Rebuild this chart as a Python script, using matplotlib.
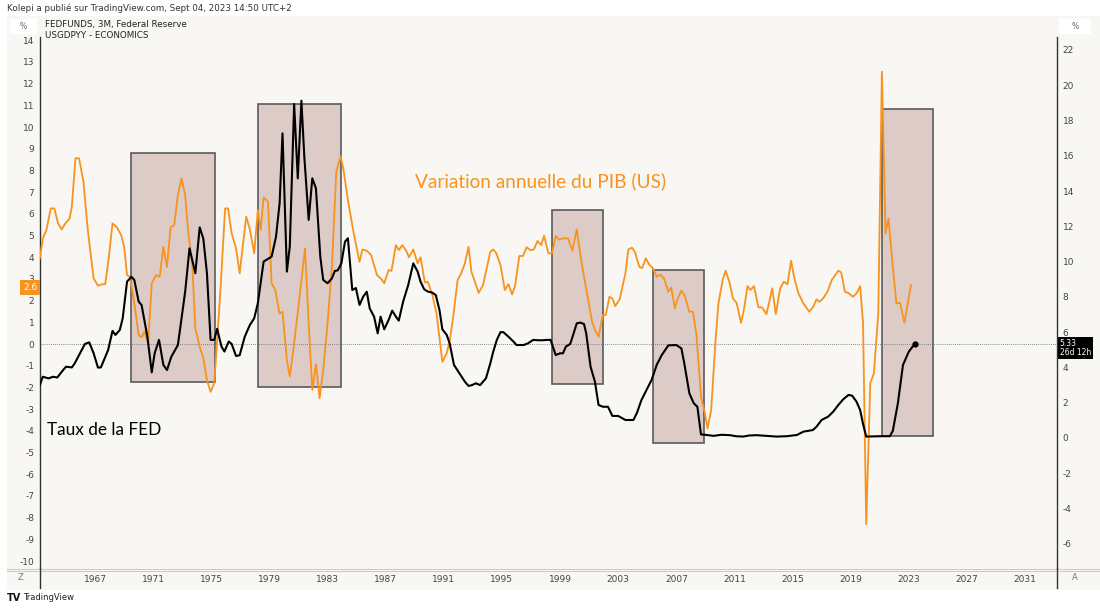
import matplotlib.pyplot as plt
from matplotlib.patches import Rectangle
from matplotlib.lines import Line2D

plt.rcParams['axes.unicode_minus'] = False

# FEDFUNDS (right axis)
fed_years = [1963.2, 1963.4, 1963.8, 1964.1, 1964.4, 1964.8, 1965.0, 1965.4, 1965.6, 1965.9,
             1966.3, 1966.6, 1966.9, 1967.2, 1967.4, 1967.9, 1968.2, 1968.4, 1968.7, 1968.9,
             1969.2, 1969.5, 1969.7, 1970.0, 1970.2, 1970.6, 1970.9, 1971.1, 1971.4, 1971.7,
             1971.95, 1972.25, 1972.7, 1973.2, 1973.5, 1973.9, 1974.2, 1974.45, 1974.7, 1974.95,
             1975.2, 1975.4, 1975.7, 1975.9, 1976.2, 1976.4, 1976.7, 1976.95, 1977.3, 1977.65,
             1977.95, 1978.2, 1978.6, 1978.8, 1979.15, 1979.45, 1979.7, 1979.9, 1980.2, 1980.4,
             1980.7, 1980.95, 1981.2, 1981.4, 1981.7, 1981.95, 1982.2, 1982.5, 1982.7, 1983.0,
             1983.3, 1983.5, 1983.7, 1983.95, 1984.2, 1984.4, 1984.7, 1984.95, 1985.2, 1985.45,
             1985.7, 1985.9, 1986.2, 1986.45, 1986.65, 1986.9, 1987.2, 1987.45, 1987.7, 1987.9,
             1988.2, 1988.55, 1988.9, 1989.2, 1989.4, 1989.65, 1989.9, 1990.2, 1990.45, 1990.7,
             1990.9, 1991.2, 1991.4, 1991.7, 1992.0, 1992.2, 1992.45, 1992.7, 1992.95, 1993.2,
             1993.5, 1993.9, 1994.2, 1994.4, 1994.65, 1994.9, 1995.1, 1995.45, 1995.8, 1996.0,
             1996.5, 1996.8, 1997.15, 1997.5, 1997.8, 1998.1, 1998.35, 1998.7, 1999.0, 1999.2,
             1999.4, 1999.7, 1999.9, 2000.15, 2000.4, 2000.65, 2000.8, 2001.1, 2001.4, 2001.65,
             2001.95, 2002.3, 2002.6, 2003.0, 2003.5, 2004.05, 2004.3, 2004.6, 2004.95, 2005.3,
             2005.65, 2006.0, 2006.45, 2007.0, 2007.35, 2007.55, 2007.9, 2008.2, 2008.45, 2008.7,
             2009.0, 2009.55, 2010.1, 2010.7, 2011.1, 2011.6, 2012.0, 2012.5, 2013.2, 2013.9,
             2014.6, 2015.3, 2015.75, 2016.4, 2016.65, 2017.0, 2017.45, 2017.8, 2018.15, 2018.5,
             2018.85, 2019.1, 2019.4, 2019.65, 2019.85, 2020.07, 2020.5, 2021.0, 2021.7, 2021.9,
             2022.25, 2022.6, 2023.0, 2023.4]
fed_rate = [3.0, 3.47, 3.38, 3.47, 3.43, 3.85, 4.04, 4.0, 4.23, 4.7,
            5.33, 5.42, 4.8, 3.99, 4.0, 4.99, 6.07, 5.84, 6.12, 6.78,
            8.86, 9.14, 8.96, 7.73, 7.54, 5.74, 3.72, 4.8, 5.56, 4.14,
            3.85, 4.61, 5.27, 8.29, 10.75, 9.34, 11.94, 11.3, 9.33, 5.56,
            5.56, 6.19, 5.18, 4.9, 5.47, 5.33, 4.65, 4.69, 5.74, 6.4,
            6.78, 7.63, 10.0, 10.1, 10.28, 11.4, 13.3, 17.27, 9.43, 10.85,
            18.93, 14.72, 19.12, 15.95, 12.36, 14.72, 14.15, 10.28, 8.96, 8.77,
            9.05, 9.47, 9.5, 9.9, 11.13, 11.32, 8.39, 8.5, 7.54, 8.01,
            8.29, 7.35, 6.88, 5.93, 6.88, 6.16, 6.69, 7.22, 6.88, 6.65,
            7.73, 8.67, 9.9, 9.43, 8.86, 8.43, 8.3, 8.24, 8.1, 7.26,
            6.16, 5.84, 5.37, 4.14, 3.76, 3.5, 3.19, 2.95, 3.0, 3.1,
            3.0, 3.38, 4.23, 4.89, 5.56, 6.0, 6.0, 5.74, 5.46, 5.27,
            5.27, 5.37, 5.56, 5.54, 5.54, 5.56, 5.56, 4.7, 4.8, 4.8,
            5.18, 5.33, 5.84, 6.5, 6.54, 6.46, 5.93, 4.04, 3.19, 1.87,
            1.77, 1.77, 1.25, 1.25, 1.02, 1.02, 1.44, 2.15, 2.72, 3.29,
            4.14, 4.7, 5.25, 5.27, 5.08, 4.23, 2.53, 1.97, 1.77, 0.2,
            0.18, 0.12, 0.18, 0.16, 0.1, 0.08, 0.14, 0.16, 0.12, 0.08,
            0.1, 0.17, 0.36, 0.45, 0.64, 1.02, 1.21, 1.49, 1.87, 2.2,
            2.44, 2.4, 2.06, 1.59, 0.8, 0.08, 0.09, 0.1, 0.1, 0.4,
            1.97, 4.14, 4.89, 5.33]

# USGDPYY (left axis)
gdp_years = [1963.2, 1963.4, 1963.65, 1963.95, 1964.2, 1964.45, 1964.7, 1964.95, 1965.25, 1965.4,
             1965.65, 1965.9, 1966.2, 1966.5, 1966.9, 1967.2, 1967.45, 1967.7, 1967.95, 1968.2,
             1968.5, 1968.8, 1969.0, 1969.2, 1969.4, 1969.7, 1970.0, 1970.2, 1970.4, 1970.65,
             1970.9, 1971.2, 1971.45, 1971.7, 1971.95, 1972.2, 1972.45, 1972.7, 1972.95, 1973.2,
             1973.4, 1973.7, 1973.9, 1974.2, 1974.45, 1974.7, 1974.95, 1975.2, 1975.35, 1975.65,
             1975.95, 1976.15, 1976.4, 1976.7, 1976.95, 1977.4, 1977.65, 1977.95, 1978.2, 1978.4,
             1978.6, 1978.9, 1979.15, 1979.4, 1979.7, 1979.9, 1980.2, 1980.4, 1980.7, 1981.1,
             1981.45, 1981.7, 1981.95, 1982.2, 1982.45, 1982.7, 1983.0, 1983.3, 1983.6, 1983.9,
             1984.1, 1984.4, 1984.8, 1985.2, 1985.4, 1985.7, 1986.0, 1986.4, 1986.7, 1986.9,
             1987.2, 1987.4, 1987.7, 1987.9, 1988.15, 1988.45, 1988.6, 1988.9, 1989.2, 1989.4,
             1989.7, 1989.9, 1990.2, 1990.5, 1990.9, 1991.2, 1991.4, 1991.65, 1991.95, 1992.2,
             1992.45, 1992.7, 1992.9, 1993.4, 1993.7, 1994.2, 1994.4, 1994.6, 1994.9, 1995.2,
             1995.45, 1995.7, 1995.9, 1996.2, 1996.45, 1996.7, 1996.95, 1997.2, 1997.45, 1997.7,
             1997.9, 1998.2, 1998.45, 1998.7, 1998.95, 1999.2, 1999.55, 1999.85, 2000.15, 2000.4,
             2000.65, 2000.9, 2001.2, 2001.4, 2001.65, 2001.95, 2002.15, 2002.4, 2002.6, 2002.8,
             2003.1, 2003.5, 2003.7, 2003.95, 2004.15, 2004.45, 2004.65, 2004.9, 2005.15, 2005.4,
             2005.65, 2005.9, 2006.15, 2006.45, 2006.65, 2006.9, 2007.1, 2007.35, 2007.6, 2007.9,
             2008.15, 2008.4, 2008.7, 2008.95, 2009.15, 2009.4, 2009.7, 2009.9, 2010.2, 2010.4,
             2010.65, 2010.9, 2011.15, 2011.45, 2011.65, 2011.9, 2012.1, 2012.35, 2012.65, 2012.9,
             2013.2, 2013.4, 2013.6, 2013.85, 2014.15, 2014.4, 2014.65, 2014.9, 2015.1, 2015.4,
             2015.75, 2016.15, 2016.4, 2016.65, 2016.85, 2017.1, 2017.4, 2017.7, 2018.15, 2018.35,
             2018.6, 2018.85, 2019.15, 2019.4, 2019.65, 2019.85, 2020.07, 2020.35, 2020.6, 2020.9,
             2021.15, 2021.4, 2021.6, 2021.9, 2022.15, 2022.4, 2022.7, 2023.15]
gdp_yoy = [3.95, 4.87, 5.25, 6.25, 6.25, 5.56, 5.28, 5.56, 5.79, 6.33,
           8.56, 8.56, 7.48, 5.25, 3.03, 2.69, 2.75, 2.76, 4.02, 5.56,
           5.38, 5.02, 4.48, 3.18, 3.1, 1.88, 0.41, 0.31, 0.57, 0.03,
           2.8, 3.18, 3.1, 4.48, 3.56, 5.38, 5.48, 6.87, 7.63, 6.87,
           5.25, 3.56, 0.72, -0.12, -0.66, -1.66, -2.2, -1.81, -0.35, 2.72,
           6.25, 6.25, 5.1, 4.41, 3.26, 5.87, 5.3, 4.18, 6.18, 5.25,
           6.76, 6.56, 2.8, 2.49, 1.41, 1.49, -0.74, -1.5, 0.03, 2.34,
           4.41, 0.95, -2.12, -0.92, -2.5, -1.2, 0.95, 3.56, 7.94, 8.66,
           8.02, 6.64, 5.1, 3.79, 4.36, 4.3, 4.1, 3.18, 3.0, 2.8,
           3.41, 3.37, 4.56, 4.33, 4.56, 4.25, 4.0, 4.36, 3.72, 4.0,
           2.83, 2.87, 2.3, 1.41, -0.82, -0.43, 0.11, 1.26, 2.95, 3.26,
           3.72, 4.48, 3.33, 2.36, 2.72, 4.25, 4.36, 4.2, 3.64, 2.49,
           2.76, 2.29, 2.67, 4.06, 4.06, 4.46, 4.33, 4.36, 4.75, 4.56,
           4.99, 4.18, 4.18, 4.98, 4.81, 4.87, 4.87, 4.3, 5.28, 4.1,
           3.1, 2.18, 1.03, 0.65, 0.34, 1.34, 1.34, 2.18, 2.1, 1.75,
           2.06, 3.26, 4.36, 4.44, 4.25, 3.56, 3.5, 3.95, 3.65, 3.49,
           3.1, 3.2, 3.03, 2.41, 2.6, 1.65, 2.1, 2.46, 2.2, 1.49,
           1.49, 0.34, -2.43, -3.12, -3.89, -3.04, 0.18, 1.87, 2.98, 3.38,
           2.87, 2.1, 1.9, 0.98, 1.57, 2.67, 2.49, 2.67, 1.69, 1.69,
           1.38, 1.95, 2.57, 1.38, 2.57, 2.87, 2.76, 3.84, 3.1, 2.34,
           1.87, 1.49, 1.69, 2.06, 1.95, 2.1, 2.41, 2.95, 3.38, 3.3,
           2.41, 2.35, 2.18, 2.33, 2.67, 1.0, -8.3, -1.81, -1.35, 1.41,
           12.55, 5.1, 5.79, 3.56, 1.87, 1.9, 0.98, 2.72]

gdp_last_label = 2.6
fed_last_label = 5.33
fed_countdown = '26d 12h'

# highlighted periods: start year, end year, low, high (left axis units)
box_start = [1969.45, 1978.2, 1998.43, 2005.42, 2021.18]
box_end = [1975.24, 1983.95, 2001.94, 2008.91, 2024.69]
box_low = [-1.76, -2.0, -1.83, -4.56, -4.23]
box_high = [8.79, 11.06, 6.18, 3.41, 10.83]

year_ticks = list(range(1967, 2032, 4))
left_ticks = list(range(-10, 15))
right_ticks = list(range(-6, 23, 2))

ORANGE = '#f7931e'
BG = '#f8f7f3'
W, H = 1100, 608


def fx(px):
    return px / W


def fy(py):
    return 1 - py / H


fig = plt.figure(figsize=(11, 6.08), dpi=100)
fig.patch.set_facecolor('white')
fig.add_artist(Rectangle((fx(7), fy(590)), fx(1100) - fx(7), fy(16) - fy(590),
                         transform=fig.transFigure, facecolor=BG, edgecolor='none', zorder=0))

ax = fig.add_axes([fx(40), fy(568), fx(1057) - fx(40), fy(37) - fy(568)])
ax.set_facecolor(BG)
ax.set_xlim(1963.21, 2033.2)
ax.set_ylim(-10.32, 14.15)
ax2 = ax.twinx()
ax2.set_ylim(-7.37, 22.73)

for a in (ax, ax2):
    for s in a.spines.values():
        s.set_visible(False)
ax.spines['left'].set_visible(True)
ax.spines['left'].set_color('#333333')
ax.spines['left'].set_linewidth(1.0)
ax2.spines['right'].set_visible(True)
ax2.spines['right'].set_color('#333333')
ax2.spines['right'].set_linewidth(1.0)

ax.set_xticks(year_ticks)
ax.set_xticklabels([str(y) for y in year_ticks])
ax.set_yticks(left_ticks)
ax2.set_yticks(right_ticks)
ax.tick_params(axis='x', length=0, pad=5, labelsize=6.5, labelcolor='#444444')
ax.tick_params(axis='y', length=0, pad=4, labelsize=6.5, labelcolor='#444444')
ax2.tick_params(axis='y', length=0, pad=4, labelsize=6.5, labelcolor='#444444')

for x0, x1, lo, hi in zip(box_start, box_end, box_low, box_high):
    ax.add_patch(Rectangle((x0, lo), x1 - x0, hi - lo, facecolor='#ddcbc8',
                           edgecolor='#5a5a5a', linewidth=1.2, zorder=1))

ax.axhline(0, color='#666666', linewidth=0.6, linestyle=(0, (1, 1.5)), zorder=2)
ax.plot(gdp_years, gdp_yoy, color=ORANGE, linewidth=1.3, zorder=3)
ax2.plot(fed_years, fed_rate, color='black', linewidth=1.5, zorder=3)
ax2.plot(fed_years[-1], fed_rate[-1], 'o', color='black', markersize=3.5, zorder=4)

# price labels on the scales
ax.annotate(f'{gdp_last_label:.1f}', xy=(0, gdp_last_label), xycoords=('axes fraction', 'data'),
            xytext=(-2, 0), textcoords='offset points', ha='right', va='center',
            color='white', fontsize=6.5, annotation_clip=False,
            bbox=dict(boxstyle='square,pad=0.3', fc=ORANGE, ec='none'))
ax2.annotate(f'{fed_last_label:.2f}\n{fed_countdown}', xy=(1, fed_last_label),
             xycoords=('axes fraction', 'data'),
             xytext=(2, -3), textcoords='offset points', ha='left', va='center',
             color='white', fontsize=5.5, linespacing=1.05, annotation_clip=False,
             bbox=dict(boxstyle='square,pad=0.2', fc='black', ec='none'))

# annotations
fig.text(fx(415), fy(181), 'Variation annuelle du PIB (US)', color=ORANGE, fontsize=13.7,
         family='Lato', va='center')
fig.text(fx(47), fy(430), 'Taux de la FED', color='black', fontsize=12.4,
         family='Lato', va='center')

# header / legend texts
fig.text(fx(7), fy(8), 'Kolepi a publié sur TradingView.com, Sept 04, 2023 14:50 UTC+2',
         fontsize=6.3, color='#333333', va='center')
fig.text(fx(45), fy(25), 'FEDFUNDS, 3M, Federal Reserve', fontsize=6.3, color='#222222', va='center')
fig.text(fx(45), fy(36), 'USGDPYY - ECONOMICS', fontsize=6.3, color='#222222', va='center')

for bx0, bx1 in ((10, 37), (1059, 1091)):
    fig.add_artist(Rectangle((fx(bx0), fy(34)), fx(bx1) - fx(bx0), fy(19) - fy(34),
                             transform=fig.transFigure, facecolor='white', edgecolor='none'))
    fig.text(fx((bx0 + bx1) / 2), fy(26.5), '%', fontsize=5.5, color='#666666',
             ha='center', va='center')

# bottom scale strip
for yy in (568.5, 570.5):
    fig.add_artist(Line2D([fx(7), fx(1100)], [fy(yy), fy(yy)], color='#c8c8c8', linewidth=0.7))
for xx in (40, 1057):
    fig.add_artist(Line2D([fx(xx), fx(xx)], [fy(568), fy(588)], color='#333333', linewidth=1.0))
fig.text(fx(20), fy(578), 'Z', fontsize=6, color='#777777', ha='center', va='center')
fig.text(fx(1075), fy(578), 'A', fontsize=6, color='#777777', ha='center', va='center')

fig.text(fx(7), fy(598), 'TV', fontsize=7, weight='bold', color='#111111', va='center')
fig.text(fx(23), fy(598), 'TradingView', fontsize=6, color='#222222', va='center')

fig.savefig('out.png', dpi=100)
